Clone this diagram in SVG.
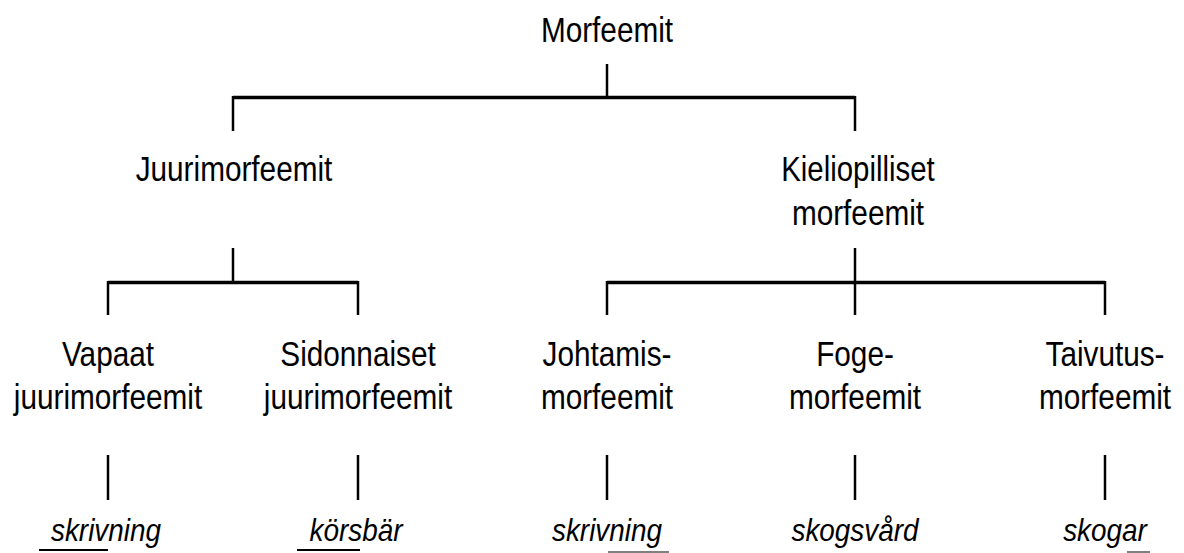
<svg xmlns="http://www.w3.org/2000/svg" width="1184" height="553" viewBox="0 0 1184 553">
<style>
.t{font-family:"Liberation Sans",Arial,sans-serif;font-size:35px;fill:#000;text-anchor:middle}
.i{font-family:"Liberation Sans",Arial,sans-serif;font-size:31px;font-style:italic;fill:#000;text-anchor:middle}
.c{stroke:#000;stroke-width:2.5;fill:none}
.h{stroke:#000;stroke-width:3.5;fill:none}
.u{stroke:#000;stroke-width:2;fill:none}
</style>
<rect width="1184" height="553" fill="#fff"/>
<g id="connectors">
<line class="c" x1="607" y1="64" x2="607" y2="97"/>
<line class="h" x1="233" y1="97.5" x2="855" y2="97.5"/>
<line class="c" x1="233" y1="96" x2="233" y2="131"/>
<line class="c" x1="855" y1="96" x2="855" y2="131"/>
<line class="c" x1="233" y1="248" x2="233" y2="282"/>
<line class="h" x1="108" y1="282.5" x2="358" y2="282.5"/>
<line class="c" x1="108" y1="281" x2="108" y2="315"/>
<line class="c" x1="358" y1="281" x2="358" y2="315"/>
<line class="c" x1="855" y1="248" x2="855" y2="315"/>
<line class="h" x1="607" y1="282.5" x2="1105" y2="282.5"/>
<line class="c" x1="607" y1="281" x2="607" y2="315"/>
<line class="c" x1="1105" y1="281" x2="1105" y2="315"/>
<line class="c" x1="108" y1="455" x2="108" y2="500"/>
<line class="c" x1="358" y1="455" x2="358" y2="500"/>
<line class="c" x1="607" y1="455" x2="607" y2="500"/>
<line class="c" x1="855" y1="455" x2="855" y2="500"/>
<line class="c" x1="1105" y1="455" x2="1105" y2="500"/>
</g>
<g id="n-morfeemit"><text class="t" transform="translate(607,42) scale(0.85,1)">Morfeemit</text></g>
<g id="n-juuri"><text class="t" transform="translate(234,181) scale(0.85,1)">Juurimorfeemit</text></g>
<g id="n-kieli"><text class="t" transform="translate(858,181) scale(0.84,1)">Kieliopilliset</text><text class="t" transform="translate(858,225) scale(0.85,1)">morfeemit</text></g>
<g id="n-vapaat"><text class="t" transform="translate(108,366) scale(0.85,1)">Vapaat</text><text class="t" transform="translate(108,409) scale(0.85,1)">juurimorfeemit</text></g>
<g id="n-sidonnaiset"><text class="t" transform="translate(358,366) scale(0.85,1)">Sidonnaiset</text><text class="t" transform="translate(358,409) scale(0.85,1)">juurimorfeemit</text></g>
<g id="n-johtamis"><text class="t" transform="translate(607,366) scale(0.85,1)">Johtamis-</text><text class="t" transform="translate(607,409) scale(0.85,1)">morfeemit</text></g>
<g id="n-foge"><text class="t" transform="translate(855,366) scale(0.85,1)">Foge-</text><text class="t" transform="translate(855,409) scale(0.85,1)">morfeemit</text></g>
<g id="n-taivutus"><text class="t" transform="translate(1105,366) scale(0.85,1)">Taivutus-</text><text class="t" transform="translate(1105,409) scale(0.85,1)">morfeemit</text></g>
<g id="ex-1"><text class="i" transform="translate(106,541) scale(0.9,1)">skrivning</text><line class="u" x1="39" y1="550" x2="108" y2="550"/></g>
<g id="ex-2"><text class="i" transform="translate(356,541) scale(0.9,1)">körsbär</text><line class="u" x1="297" y1="550" x2="360" y2="550"/></g>
<g id="ex-3"><text class="i" transform="translate(607,541) scale(0.9,1)">skrivning</text><line class="u" x1="608" y1="552" x2="669" y2="552" stroke-opacity="0.5"/></g>
<g id="ex-4"><text class="i" transform="translate(855,541) scale(0.9,1)">skogsvård</text></g>
<g id="ex-5"><text class="i" transform="translate(1105,541) scale(0.9,1)">skogar</text><line class="u" x1="1127" y1="552" x2="1150" y2="552" stroke-opacity="0.5"/></g>
</svg>
